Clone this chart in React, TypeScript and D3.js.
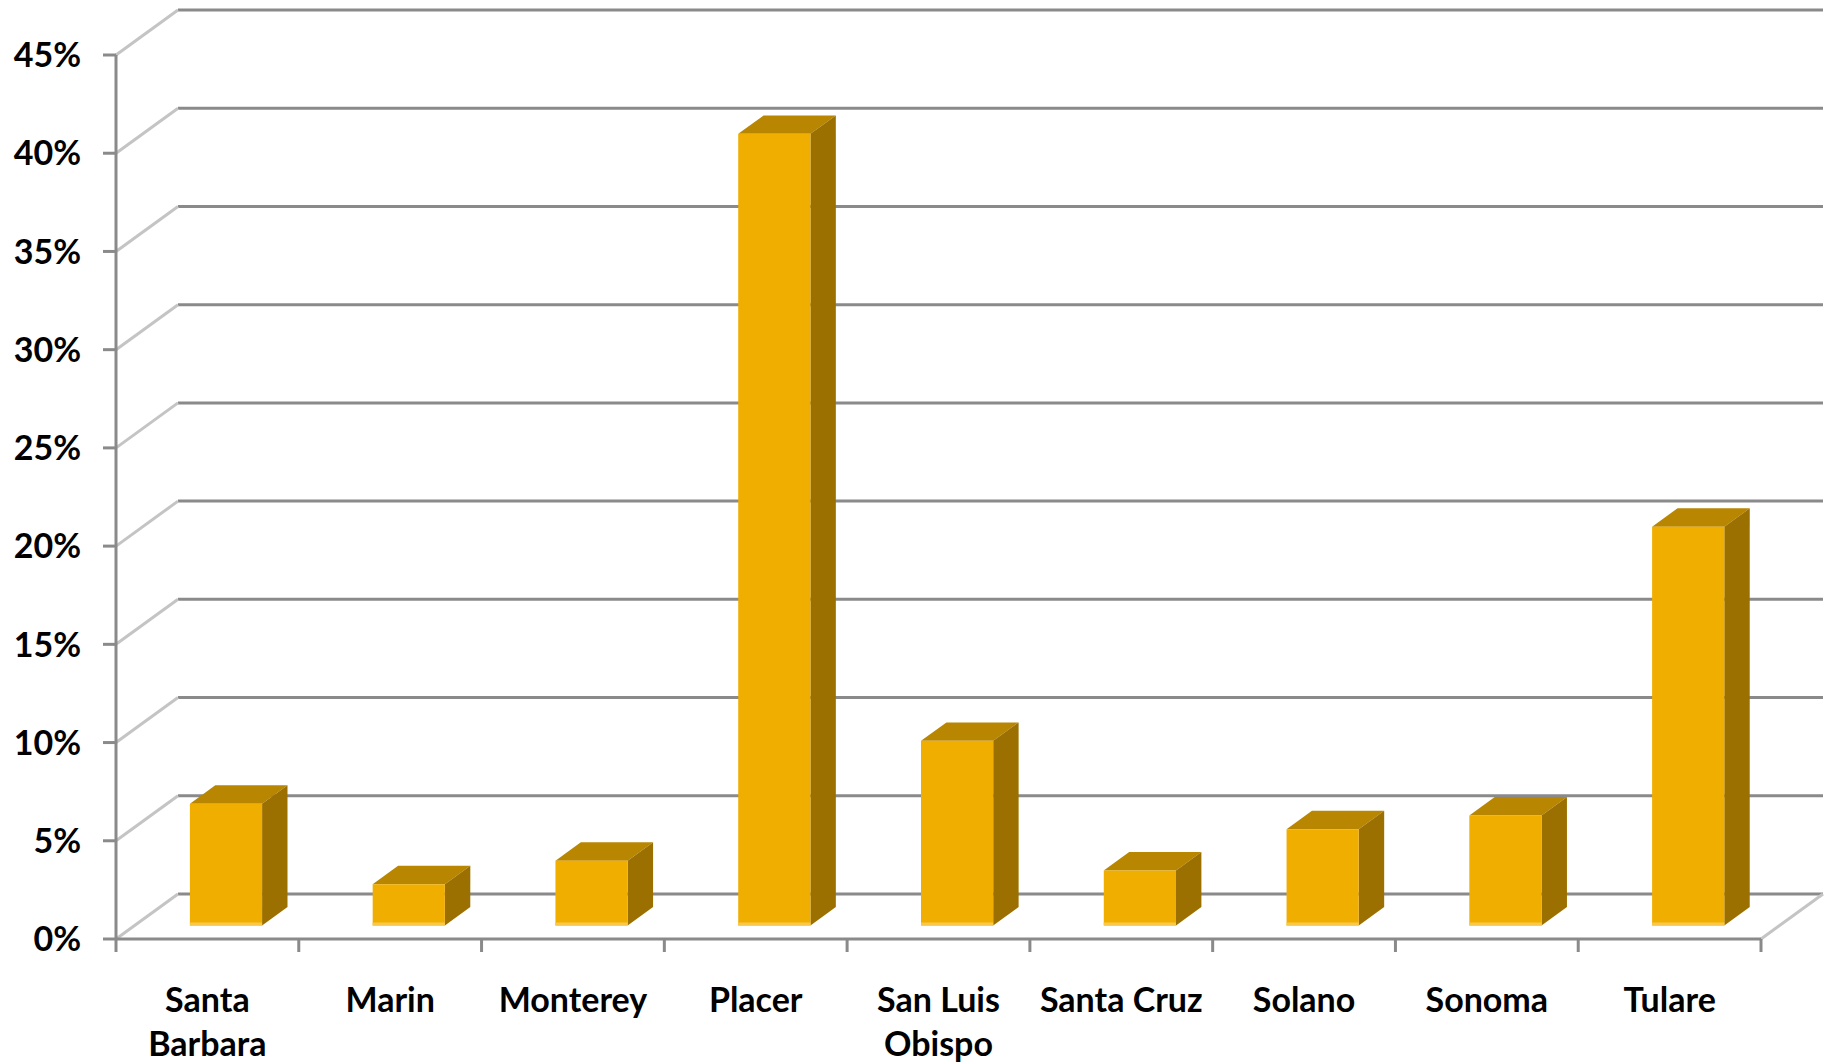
import * as d3 from 'd3';

const categories = [
  ['Santa', 'Barbara'],
  ['Marin'],
  ['Monterey'],
  ['Placer'],
  ['San Luis', 'Obispo'],
  ['Santa Cruz'],
  ['Solano'],
  ['Sonoma'],
  ['Tulare'],
];
const values = [6.2, 2.1, 3.3, 40.3, 9.4, 2.8, 4.9, 5.6, 20.3];
const yTicks = [0, 5, 10, 15, 20, 25, 30, 35, 40, 45];

const width = 1826;
const height = 1062;
const left = 116;
const right = 1761;
const bottom = 939;
const top = 55;
// depth offset of the back wall
const DX = 62;
const DY = -45;

export default function App() {
  const names = categories.map((c) => c.join(' '));
  const x = d3.scaleBand<string>().domain(names).range([left, right]).padding(0);
  const y = d3.scaleLinear().domain([0, 45]).range([bottom, top]);

  const f0 = 0.3; // front face depth
  const f1 = 0.71; // back face depth
  const barW = x.bandwidth() * 0.395;
  const sideDx = (f1 - f0) * DX;
  const sideDy = (f1 - f0) * DY;
  const font = 'Lato, "Open Sans", sans-serif';

  return (
    <div style={{ position: 'absolute', left: 0, top: 0 }}>
      <svg width={width} height={height} style={{ display: 'block', background: '#fff' }}>
        {/* back wall gridlines */}
        {yTicks.map((t) => (
          <line
            key={'g' + t}
            x1={left + DX}
            x2={right + DX}
            y1={y(t) + DY}
            y2={y(t) + DY}
            stroke="#8a8a8a"
            strokeWidth={3}
          />
        ))}
        {/* side wall lines */}
        {yTicks.map((t) => (
          <line
            key={'s' + t}
            x1={left}
            x2={left + DX}
            y1={y(t)}
            y2={y(t) + DY}
            stroke="#c4c4c4"
            strokeWidth={3}
          />
        ))}
        {/* floor right edge */}
        <line x1={right} x2={right + DX} y1={bottom} y2={bottom + DY} stroke="#c4c4c4" strokeWidth={3} />

        {/* bars */}
        {values.map((v, i) => {
          const cx = (x(names[i]) ?? 0) + x.bandwidth() / 2 + f0 * DX;
          const by = y(0) + f0 * DY;
          const h = y(0) - y(v);
          const x0 = cx - barW / 2;
          const x1 = cx + barW / 2;
          const ty = by - h;
          return (
            <g key={names[i]}>
              <polygon
                points={`${x0},${ty} ${x0 + sideDx},${ty + sideDy} ${x1 + sideDx},${ty + sideDy} ${x1},${ty}`}
                fill="#b88600"
              />
              <polygon
                points={`${x1},${ty} ${x1 + sideDx},${ty + sideDy} ${x1 + sideDx},${by + sideDy} ${x1},${by}`}
                fill="#9c7000"
              />
              <rect x={x0} y={ty} width={barW} height={h} fill="#f0ae00" />
              <rect x={x0} y={by - 3} width={barW} height={3} fill="#f7c84a" />
            </g>
          );
        })}

        {/* y axis */}
        <line x1={left} x2={left} y1={top} y2={bottom} stroke="#8a8a8a" strokeWidth={3} />
        {yTicks.map((t) => (
          <g key={'t' + t}>
            <line x1={left - 13} x2={left} y1={y(t)} y2={y(t)} stroke="#8a8a8a" strokeWidth={3} />
            <text
              x={81}
              y={y(t)}
              dy="0.36em"
              textAnchor="end"
              fontFamily={font}
              fontWeight={700}
              fontSize={34}
              fill="#000"
            >
              {t}%
            </text>
          </g>
        ))}

        {/* x axis */}
        <line x1={left} x2={right} y1={bottom} y2={bottom} stroke="#8a8a8a" strokeWidth={3} />
        {[...names.map((n) => x(n) ?? 0), right].map((px, i) => (
          <line key={'xt' + i} x1={px} x2={px} y1={bottom} y2={bottom + 13} stroke="#8a8a8a" strokeWidth={3} />
        ))}
        {categories.map((lines, i) => (
          <text
            key={'c' + i}
            x={(x(names[i]) ?? 0) + x.bandwidth() / 2}
            y={1012}
            textAnchor="middle"
            fontFamily={font}
            fontWeight={700}
            fontSize={34}
            fill="#000"
          >
            {lines.map((l, j) => (
              <tspan key={j} x={(x(names[i]) ?? 0) + x.bandwidth() / 2} dy={j === 0 ? 0 : 44}>
                {l}
              </tspan>
            ))}
          </text>
        ))}
      </svg>
    </div>
  );
}
